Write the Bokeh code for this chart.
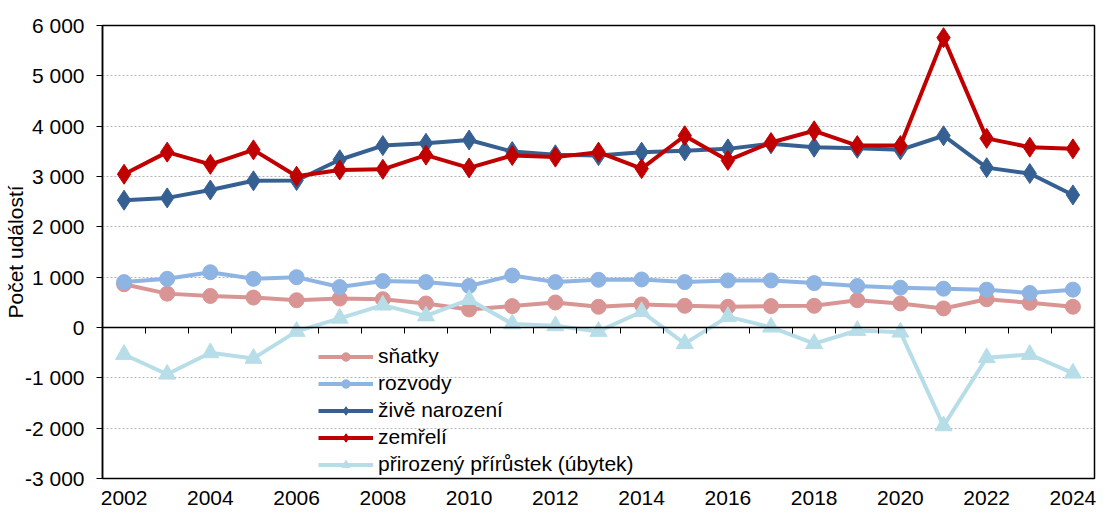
from bokeh.plotting import figure
from bokeh.models import (Range1d, LinearAxis, FixedTicker, Legend, LegendItem)
from bokeh.embed import file_html
from bokeh.resources import INLINE

years = list(range(2002, 2025))
snatky = [860, 673, 627, 595, 542, 575, 562, 477, 359, 425, 497, 412, 458, 431, 412, 425, 431, 542, 477, 379, 562, 490, 412]
rozvody = [902, 967, 1098, 967, 1000, 804, 922, 902, 824, 1033, 902, 948, 954, 902, 935, 935, 882, 824, 791, 771, 752, 686, 752]
narozeni = [2529, 2575, 2732, 2915, 2920, 3333, 3614, 3660, 3725, 3495, 3431, 3415, 3484, 3510, 3549, 3650, 3582, 3560, 3530, 3810, 3176, 3059, 2634]
zemreli = [3045, 3484, 3241, 3529, 3006, 3131, 3143, 3425, 3170, 3418, 3385, 3484, 3157, 3810, 3320, 3675, 3908, 3614, 3614, 5758, 3758, 3582, 3549]
prirustek = [-536, -928, -503, -614, -78, 183, 444, 229, 556, 72, 33, -78, 314, -320, 216, 7, -320, -59, -92, -1954, -601, -536, -908]

y_ticks = [-3000, -2000, -1000, 0, 1000, 2000, 3000, 4000, 5000, 6000]
y_labels = {t: (f"{t:,}".replace(",", " ")) for t in y_ticks}
x_label_ticks = list(range(2002, 2025, 2))
boundaries = [y + 0.5 for y in years[:-1]]

FONT = "Liberation Sans"
FS = "21px"

p = figure(width=1097, height=508, output_backend="svg", toolbar_location=None,
           x_range=Range1d(2001.5, 2024.5), y_range=Range1d(-3000, 6000),
           min_border_left=101, min_border_right=3, min_border_top=25, min_border_bottom=30,
           x_axis_location=None, y_axis_location=None)
p.outline_line_color = "black"
p.outline_line_width = 1.5
p.background_fill_color = "white"
p.border_fill_color = "white"

# y axis
ya = LinearAxis(ticker=FixedTicker(ticks=y_ticks), major_label_overrides=y_labels,
                axis_label="Počet událostí")
ya.axis_line_color = "black"
ya.axis_line_width = 1.5
ya.major_tick_out = 6
ya.major_tick_in = 0
ya.minor_tick_out = 0
ya.minor_tick_in = 0
ya.major_tick_line_color = "black"
ya.major_label_text_font = FONT
ya.major_label_text_font_size = FS
ya.major_label_text_color = "black"
ya.major_label_standoff = 12
ya.axis_label_text_font = FONT
ya.axis_label_text_font_size = FS
ya.axis_label_text_font_style = "normal"
ya.axis_label_text_color = "black"
ya.axis_label_standoff = -5
p.add_layout(ya, "left")

# x axis labels (bottom)
xa = LinearAxis(ticker=FixedTicker(ticks=x_label_ticks))
xa.axis_line_color = None
xa.major_tick_line_color = None
xa.minor_tick_line_color = None
xa.major_label_text_font = FONT
xa.major_label_text_font_size = FS
xa.major_label_text_color = "black"
xa.major_label_standoff = 6
p.add_layout(xa, "below")

# x axis line at zero with ticks between categories
xz = LinearAxis(ticker=FixedTicker(ticks=boundaries), fixed_location=0)
xz.axis_line_color = "black"
xz.axis_line_width = 1.5
xz.major_tick_out = 6
xz.major_tick_in = 0
xz.minor_tick_line_color = None
xz.major_tick_line_color = "black"
xz.major_label_text_font_size = "0px"
xz.major_label_text_alpha = 0
p.add_layout(xz, "below")

p.xgrid.grid_line_color = None
p.ygrid.ticker = FixedTicker(ticks=[t for t in y_ticks if t not in (0, -3000, 6000)])
p.ygrid.grid_line_color = "#b4b4b4"
p.ygrid.grid_line_dash = "2 2"
p.ygrid.grid_line_width = 1

series = [
    ("sňatky", snatky, "#D99594", "circle", 15),
    ("rozvody", rozvody, "#8EB4E3", "circle", 15),
    ("živě narození", narozeni, "#376092", "diamond", 20),
    ("zemřelí", zemreli, "#C00000", "diamond", 20),
    ("přirozený přírůstek (úbytek)", prirustek, "#B7DEE8", "triangle", 17),
]

items = []
for name, vals, col, marker, size in series:
    lr = p.line(years, vals, line_color=col, line_width=4, line_join="round")
    sr = p.scatter(years, vals, marker=marker, size=size, fill_color=col, line_color=col)
    items.append(LegendItem(label=name, renderers=[lr, sr]))

legend = Legend(items=items, location=(216, 2))
legend.background_fill_alpha = 0
legend.border_line_alpha = 0
legend.padding = 0
legend.margin = 0
legend.spacing = 3
legend.glyph_width = 55
legend.glyph_height = 21
legend.label_height = 21
legend.label_standoff = 5
legend.label_text_font = FONT
legend.label_text_font_size = FS
legend.label_text_color = "black"
p.add_layout(legend, "center")

open("out.html", "w").write(file_html(p, INLINE))
